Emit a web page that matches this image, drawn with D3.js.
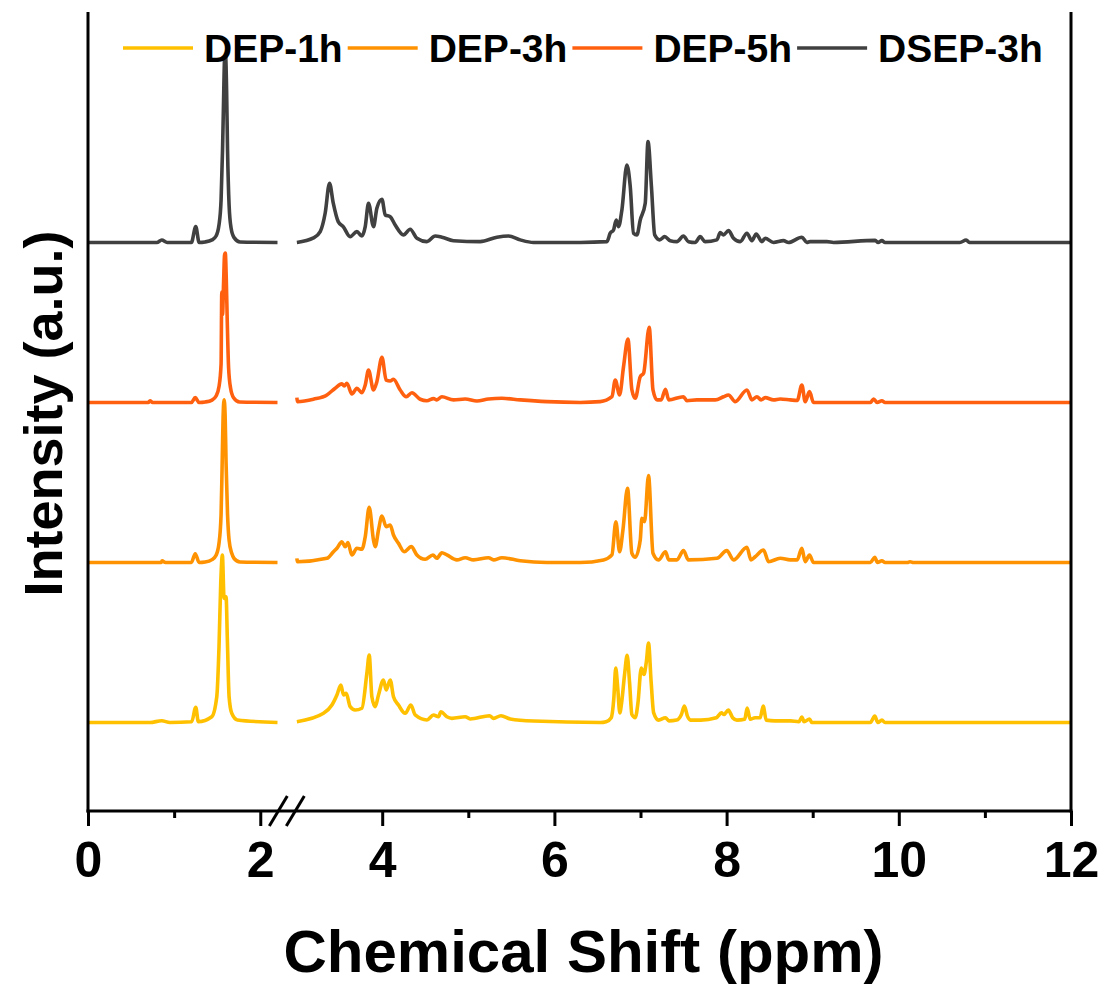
<!DOCTYPE html>
<html>
<head>
<meta charset="utf-8">
<script src="https://cdn.jsdelivr.net/npm/d3@7"></script>
<style>
  html, body { margin: 0; padding: 0; background: #fff; }
  svg text { font-family: "Liberation Sans", Arial, Helvetica, sans-serif; font-weight: bold; }
</style>
</head>
<body>
<svg id="chart" width="1107" height="988"></svg>
<script>
// ---------- data (ppm, intensity a.u.) ----------
const seriesNames = ["DEP-1h", "DEP-3h", "DEP-5h", "DSEP-3h"];
const seriesColors = ["#FFC000", "#FF9200", "#FF6010", "#404040"];
const seriesOffsets = [0, 100, 200, 300];
const xTicksMajor = [0, 2, 4, 6, 8, 10, 12];
const xTicksMinor = [1, 5, 7, 9, 11];
const breakRange = [2.2, 3.0];

const dep1h = [
  [0.00,0],[0.72,0],[0.856,1.1],[0.95,0],[1.204,0.5],[1.251,9.5],[1.281,0.5],[1.437,3.6],[1.495,16.1],
  [1.521,47.4],[1.541,87],[1.560,104.7],[1.580,77.6],[1.603,78.6],[1.618,51.6],[1.638,16.1],[1.669,5.75],
  [1.734,1.6],[2.20,0],
  [3.009,0.5],[3.318,5.75],[3.416,10.9],[3.474,17.2],[3.520,23.4],[3.551,17.2],[3.582,18.25],[3.628,9.9],
  [3.686,7.8],[3.764,8.9],[3.822,30.75],[3.849,42.2],[3.880,16.1],[3.919,9.9],[3.957,17.2],[4.015,26.6],
  [4.046,20.3],[4.093,26.6],[4.131,16.1],[4.189,10.9],[4.267,5.75],[4.333,10.9],[4.383,4.7],[4.519,1.6],
  [4.596,4.7],[4.654,3.6],[4.682,6.75],[4.751,3.6],[4.810,2.6],[4.964,3.6],[5.022,2.2],[5.247,4.25],
  [5.293,2.6],[5.379,4.25],[5.487,2.2],[5.757,0.9],[6.532,0],[6.60,0.5],[6.66,3],[6.69,15],[6.712,34],
  [6.735,22],[6.76,6],[6.78,12],[6.815,30],[6.845,42],[6.873,25],[6.90,5],[6.939,3],[6.97,12],[7.009,34],
  [7.04,30],[7.068,38],[7.093,49.7],[7.124,25],[7.153,6],[7.21,1.5],[7.29,3],[7.33,1],[7.42,1.5],[7.475,5],
  [7.51,10.3],[7.545,4],[7.58,1.5],[7.70,1.5],[7.88,3],[7.94,6],[7.97,5],[8.02,7.8],[8.07,3],[8.12,1.5],
  [8.21,2],[8.239,9],[8.274,2],[8.33,3],[8.39,3],[8.425,10.3],[8.46,1.5],[8.56,1],[8.74,1],[8.84,0.5],
  [8.874,3.4],[8.90,0.5],[8.963,2.2],[8.99,0],[9.67,0],[9.721,4],[9.756,0],[9.804,1.5],[9.84,0],[12.0,0]
];

const dep3h = [
  [0.00,0],[0.85,0],[0.86,1],[0.90,0],[1.20,0],[1.245,5.5],[1.29,0],[1.36,0.3],[1.44,1.8],[1.487,4.5],
  [1.521,12],[1.545,30],[1.557,60],[1.568,90],[1.580,101.6],[1.592,92],[1.603,62],[1.62,30],[1.638,14],
  [1.669,5.7],[1.696,2.5],[1.765,0.3],[2.20,0],
  [3.009,2.6],[3.015,0.5],[3.358,2.6],[3.434,6.75],[3.474,8.9],[3.532,13],[3.570,9.9],[3.602,12.4],
  [3.648,4.7],[3.706,8.9],[3.764,8.25],[3.803,16.1],[3.849,34.5],[3.899,14],[3.919,9.9],[3.957,20.3],
  [3.997,29],[4.046,22.4],[4.093,23.4],[4.131,17.2],[4.189,12],[4.256,6.75],[4.337,9.9],[4.403,4.7],
  [4.499,2],[4.589,4.7],[4.635,2.6],[4.693,6.1],[4.751,4.7],[4.867,1.6],[4.964,3],[5.060,1.6],[5.235,3],
  [5.293,1.6],[5.390,3],[5.603,1.1],[5.913,0],[6.300,0],[6.571,1.6],[6.668,4.7],[6.714,25.5],[6.757,6.75],
  [6.796,20.3],[6.849,46.4],[6.900,5.75],[6.939,3.25],[6.997,14],[7.016,27.6],[7.047,25.5],[7.093,54.25],
  [7.145,5.75],[7.209,1.6],[7.290,6.75],[7.328,1.6],[7.423,1.6],[7.499,7.4],[7.557,1.6],[7.887,2.6],
  [8.003,7.4],[8.080,1.6],[8.236,9.5],[8.283,1.6],[8.332,3.6],[8.429,7.8],[8.487,0.5],[8.623,2.6],
  [8.739,1.6],[8.82,1.6],[8.874,8.9],[8.913,0.5],[8.963,4.7],[9.009,0],[9.67,0],[9.721,3.25],[9.752,0],
  [9.804,1.1],[9.84,0],[10.10,0],[10.13,0.5],[10.17,0],[12.0,0]
];

const dep5h = [
  [0.00,0],[0.70,0],[0.72,1],[0.75,0],[1.20,0],[1.245,3],[1.29,0],[1.36,0.3],[1.44,1.5],[1.487,4],
  [1.521,10],[1.545,24],[1.553,69],[1.562,55],[1.574,75],[1.585,92],[1.594,93.4],[1.605,78],[1.617,50],
  [1.632,22],[1.655,9],[1.69,3],[1.76,0.3],[2.20,0],
  [3.009,3],[3.015,0.5],[3.202,2],[3.358,4.7],[3.454,8.9],[3.532,11.6],[3.559,10.3],[3.590,12],
  [3.648,5.3],[3.706,8.9],[3.764,6.1],[3.803,10.9],[3.841,20.3],[3.899,7.8],[3.938,13],[3.997,28.25],
  [4.046,14],[4.093,13.4],[4.131,14.5],[4.209,7.8],[4.279,3.6],[4.345,6.1],[4.441,2],[4.519,1.1],
  [4.596,2.4],[4.635,1.6],[4.693,3.6],[4.828,1.6],[4.964,2.2],[5.100,0.9],[5.235,2.2],[5.390,2.6],
  [5.603,1.6],[5.913,0.5],[6.300,0],[6.532,0.5],[6.668,3.6],[6.707,14],[6.757,4.7],[6.803,22.4],
  [6.854,39.7],[6.900,7.8],[6.939,2.6],[6.997,16.1],[7.036,18.25],[7.101,47],[7.145,7.8],[7.192,1.6],
  [7.24,1.6],[7.290,8.25],[7.328,1.6],[7.499,3.6],[7.538,1.1],[7.655,1.6],[7.87,1.6],[7.964,3.6],
  [8.022,4.7],[8.100,0.5],[8.236,7.8],[8.294,1.6],[8.352,3.6],[8.40,1.6],[8.448,3],[8.545,1.6],
  [8.623,2.2],[8.739,1.6],[8.82,1.2],[8.874,10.9],[8.913,0.5],[8.963,6.75],[9.009,0],[9.67,0],
  [9.708,2.2],[9.748,0],[9.804,1.1],[9.84,0],[12.0,0]
];

const dsep3h = [
  [0.00,0],[0.80,0],[0.856,1.5],[0.92,0],[1.20,0],[1.251,9.9],[1.29,0],[1.359,0.3],[1.440,1.6],
  [1.487,4],[1.521,11],[1.545,26.6],[1.562,58],[1.574,89],[1.585,114],[1.597,117],[1.609,95.3],
  [1.620,58],[1.638,23.4],[1.661,9],[1.696,3],[1.765,0.3],[2.20,0],
  [3.009,0],[3.202,2.8],[3.280,6.75],[3.338,18.4],[3.388,37],[3.431,24.7],[3.489,13],[3.547,9.9],
  [3.628,3.6],[3.706,6.75],[3.764,4],[3.803,9.9],[3.841,24.5],[3.899,9.9],[3.938,21.4],[3.997,27],
  [4.035,17.2],[4.093,16.1],[4.151,10.9],[4.247,4.7],[4.325,8.25],[4.403,2.6],[4.519,0.5],[4.616,4],
  [4.693,3.25],[4.828,1.1],[5.138,0.5],[5.332,3.25],[5.467,4],[5.603,1.6],[5.757,0],[6.300,0],
  [6.610,0.5],[6.648,5.75],[6.687,7.8],[6.718,14],[6.745,9.9],[6.784,20.3],[6.842,48.4],[6.881,34.9],
  [6.919,5.75],[6.958,4.7],[6.997,14],[7.055,24.5],[7.087,63],[7.127,34.9],[7.165,4.7],[7.223,1.6],
  [7.281,3.6],[7.345,1.1],[7.423,0.5],[7.499,4],[7.557,0.5],[7.635,0],[7.693,3.6],[7.751,0.5],
  [7.887,1.6],[7.926,6.1],[7.964,4.7],[8.022,7.4],[8.080,2.6],[8.158,0.5],[8.236,5.75],[8.294,1.1],
  [8.344,5.3],[8.410,0.5],[8.448,2.6],[8.545,0],[8.661,1.1],[8.719,0],[8.874,3.25],[8.932,0],
  [8.970,0.5],[9.165,0.5],[9.242,0],[9.726,1.3],[9.76,0],[9.804,1.1],[9.84,0],[10.71,0],[10.783,1.5],
  [10.82,0],[12.0,0]
];

const seriesData = [dep1h, dep3h, dep5h, dsep3h];

// ---------- layout ----------
const svg = d3.select("#chart");
const plotTop = 12, plotBottom = 811, plotLeft = 88, plotRight = 1071;

const x = d3.scaleLinear()
  .domain([0, breakRange[0], breakRange[1], 12])
  .range([plotLeft, 277.5, 296.1, plotRight]);
const y = d3.scaleLinear().domain([-55.3, 444]).range([plotBottom, plotTop]);

// ---------- traces ----------
const gData = svg.append("g");
seriesData.forEach((pts, i) => {
  const off = seriesOffsets[i];
  const line = d3.line().x(d => x(d[0])).y(d => y(d[1] + off)).curve(d3.curveMonotoneX);
  const segs = [pts.filter(d => d[0] <= breakRange[0]), pts.filter(d => d[0] >= breakRange[1])];
  segs.forEach(seg => {
    gData.append("path")
      .attr("d", line(seg))
      .attr("fill", "none")
      .attr("stroke", seriesColors[i])
      .attr("stroke-width", 3.6)
      .attr("stroke-linejoin", "round")
      .attr("stroke-linecap", "butt");
  });
});

// ---------- axes ----------
const axisW = 3;
const gAxis = svg.append("g").attr("transform", `translate(0,${plotBottom})`);
gAxis.call(d3.axisBottom(x).tickValues(xTicksMajor).tickSize(15).tickSizeOuter(0).tickFormat(d3.format("d")));
gAxis.select(".domain").remove();
gAxis.selectAll(".tick line").attr("stroke", "#000").attr("stroke-width", axisW);
gAxis.selectAll(".tick text")
  .attr("y", 66).attr("dy", 0)
  .attr("fill", "#000")
  .style("font-size", "50px")
  .style("font-family", "'Liberation Sans', Arial, sans-serif")
  .style("font-weight", "bold");

const gMinor = svg.append("g").attr("transform", `translate(0,${plotBottom})`);
gMinor.call(d3.axisBottom(x).tickValues(xTicksMinor).tickSize(7).tickSizeOuter(0).tickFormat(""));
gMinor.select(".domain").remove();
gMinor.selectAll(".tick line").attr("stroke", "#000").attr("stroke-width", axisW);

// frame lines: bottom, left, right
svg.append("line").attr("x1", plotLeft - 1.5).attr("x2", plotRight + 1.5)
  .attr("y1", plotBottom).attr("y2", plotBottom).attr("stroke", "#000").attr("stroke-width", axisW);
svg.append("line").attr("x1", plotLeft).attr("x2", plotLeft)
  .attr("y1", plotTop).attr("y2", plotBottom + 1.5).attr("stroke", "#000").attr("stroke-width", axisW);
svg.append("line").attr("x1", plotRight).attr("x2", plotRight)
  .attr("y1", plotTop).attr("y2", plotBottom + 1.5).attr("stroke", "#000").attr("stroke-width", axisW);

// break marks
const bx = (x(breakRange[0]) + x(breakRange[1])) / 2;
[-8.5, 8.5].forEach(dx => {
  svg.append("line")
    .attr("x1", bx + dx - 9).attr("y1", plotBottom + 15)
    .attr("x2", bx + dx + 9).attr("y2", plotBottom - 15)
    .attr("stroke", "#000").attr("stroke-width", axisW);
});

// axis titles
svg.append("text")
  .attr("x", (plotLeft + plotRight) / 2 + 4).attr("y", 972)
  .attr("text-anchor", "middle")
  .style("font-size", "60px")
  .text("Chemical Shift (ppm)");

svg.append("text")
  .attr("transform", `translate(62,${(plotTop + plotBottom) / 2 + 2}) rotate(-90)`)
  .attr("text-anchor", "middle")
  .style("font-size", "54px")
  .text("Intensity (a.u.)");

// ---------- legend ----------
const legendStart = 123, legendStride = 224.7, legendLine = 70, legendY = 48;
const gLeg = svg.append("g");
seriesNames.forEach((name, i) => {
  const lx = legendStart + i * legendStride;
  gLeg.append("line")
    .attr("x1", lx).attr("x2", lx + legendLine)
    .attr("y1", legendY).attr("y2", legendY)
    .attr("stroke", seriesColors[i]).attr("stroke-width", 3.4);
  gLeg.append("text")
    .attr("x", lx + legendLine + 11).attr("y", legendY + 14)
    .style("font-size", "39px")
    .text(name);
});
</script>
</body>
</html>
